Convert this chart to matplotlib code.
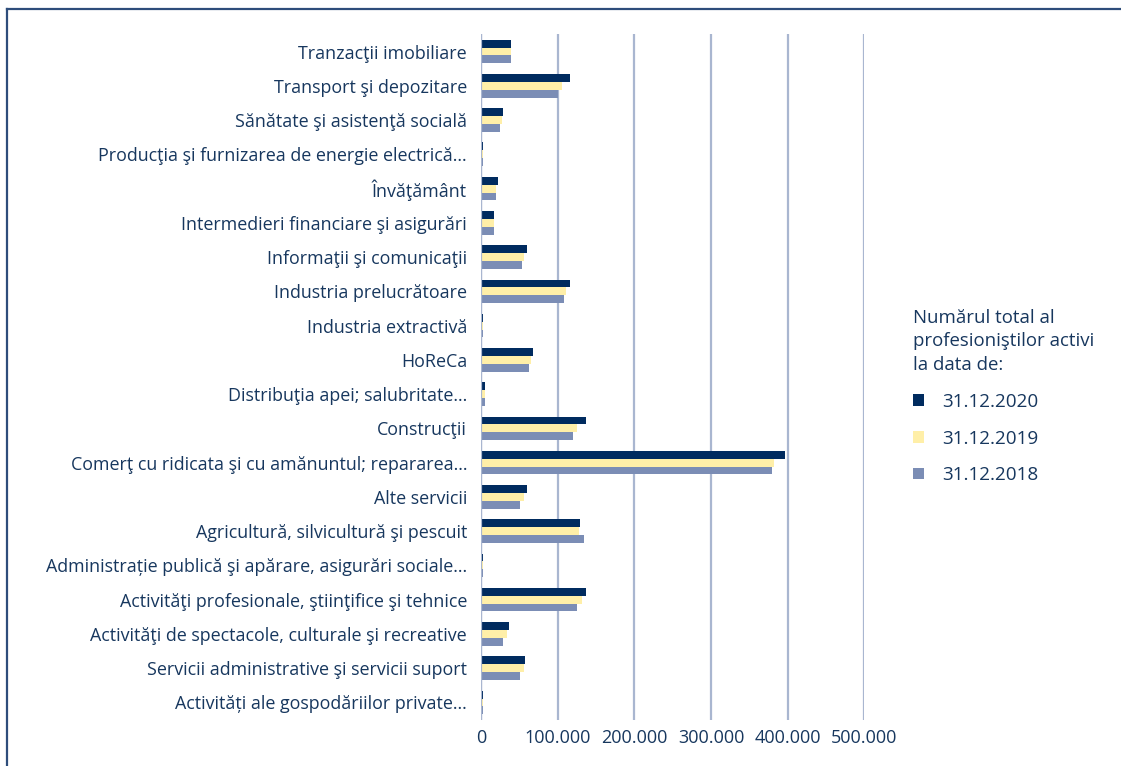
import matplotlib.pyplot as plt
from matplotlib.lines import Line2D

# categories, bottom to top as drawn
categories = [
    "Activități ale gospodăriilor private...",
    "Servicii administrative şi servicii suport",
    "Activităţi de spectacole, culturale şi recreative",
    "Activităţi profesionale, ştiinţifice şi tehnice",
    "Administrație publică şi apărare, asigurări sociale...",
    "Agricultură, silvicultură şi pescuit",
    "Alte servicii",
    "Comerţ cu ridicata şi cu amănuntul; repararea...",
    "Construcţii",
    "Distribuţia apei; salubritate...",
    "HoReCa",
    "Industria extractivă",
    "Industria prelucrătoare",
    "Informaţii şi comunicaţii",
    "Intermedieri financiare şi asigurări",
    "Învăţământ",
    "Producţia şi furnizarea de energie electrică...",
    "Sănătate şi asistenţă socială",
    "Transport şi depozitare",
    "Tranzacţii imobiliare",
]

v2020 = [3000, 57800, 37000, 137500, 3000, 129600, 60400, 396000, 137500, 5600,
         68300, 3000, 116600, 60400, 17400, 22600, 3000, 29000, 116600, 39600]
v2019 = [2500, 56500, 34300, 132300, 2500, 128300, 56500, 381700, 125700, 5600,
         65700, 2500, 111400, 56500, 17400, 20000, 2500, 27800, 106000, 39600]
v2018 = [3000, 51300, 29000, 125700, 3000, 134900, 51300, 379000, 120500, 5600,
         63000, 3000, 108700, 53900, 17400, 20000, 3000, 25200, 100000, 39600]

series_labels = ["31.12.2020", "31.12.2019", "31.12.2018"]
colors = ["#002B5F", "#FFEFA8", "#7B8DB5"]
text_color = "#17375E"

plt.rcParams["font.family"] = ["Open Sans", "DejaVu Sans"]

fig = plt.figure(figsize=(11.21, 7.66), dpi=100)
ax = fig.add_axes([0.429, 0.0606, 0.342, 0.8945])

h = 0.23
ypos = list(range(len(categories)))
for i, (vals, lab, col) in enumerate(zip([v2020, v2019, v2018], series_labels, colors)):
    offs = (1 - i) * h
    ax.barh([y + offs for y in ypos], vals, height=h, color=col, label=lab, zorder=3)

ax.set_ylim(-0.5, len(categories) - 0.5)
ax.set_xlim(0, 500000)
ax.set_xticks([0, 100000, 200000, 300000, 400000, 500000])
ax.set_xticklabels(["0", "100.000", "200.000", "300.000", "400.000", "500.000"])
ax.set_yticks(ypos)
ax.set_yticklabels(categories)
ax.tick_params(axis="both", length=0, colors=text_color)
ax.tick_params(axis="y", pad=10, labelsize=12.9)
ax.tick_params(axis="x", pad=7, labelsize=13)
ax.grid(axis="x", color="#A9B6D0", linewidth=1.6, zorder=0)
for s in ax.spines.values():
    s.set_visible(False)
ax.axvline(0, color="#A9B6D0", linewidth=1.6, zorder=4)

leg = fig.legend(loc="upper left", bbox_to_anchor=(0.808, 0.607),
                 title="Numărul total al\nprofesioniştilor activi\nla data de:",
                 frameon=False, fontsize=13.6, title_fontsize=13.4,
                 handlelength=0.55, handleheight=0.55, labelspacing=1.0,
                 handletextpad=1.0, alignment="left", borderaxespad=0)
for t in leg.get_texts():
    t.set_color(text_color)
leg.get_title().set_color(text_color)
leg.get_title().set_linespacing(1.4)

# frame lines at the top and left
fig.add_artist(Line2D([7 / 1121, 1], [1 - 9 / 766, 1 - 9 / 766], color="#2E4D7B", linewidth=1.6))
fig.add_artist(Line2D([7 / 1121, 7 / 1121], [0, 1 - 9 / 766], color="#2E4D7B", linewidth=1.6))

fig.savefig("out.png", dpi=100)
